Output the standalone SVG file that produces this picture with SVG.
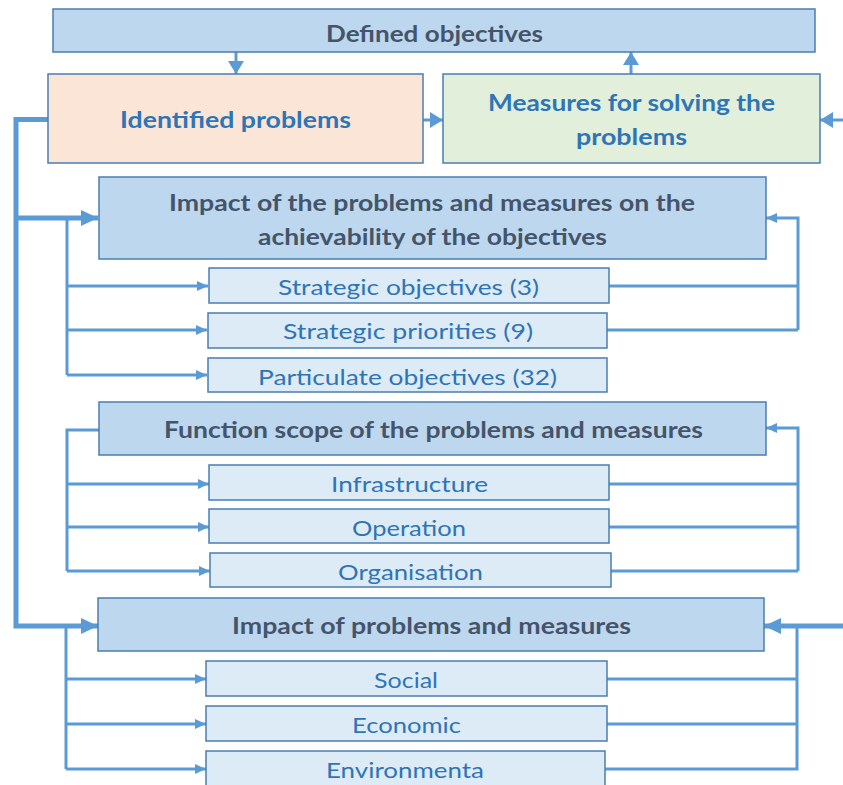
<svg xmlns="http://www.w3.org/2000/svg" width="843" height="785" viewBox="0 0 843 785">
<style>
.box{stroke:#4a7eb0;stroke-width:1.5}
.main{fill:#bdd7ee}
.sub{fill:#ddebf7}
.tb{font-family:Lato,"Open Sans","DejaVu Sans",sans-serif;font-weight:bold;font-size:22px;fill:#44546a;text-anchor:middle}
.tbb{font-family:Lato,"Open Sans","DejaVu Sans",sans-serif;font-weight:bold;font-size:22px;fill:#2e75b6;text-anchor:middle}
.tr{font-family:Lato,"Open Sans","DejaVu Sans",sans-serif;font-size:22px;fill:#2e75b6;text-anchor:middle}
.thick{fill:none;stroke:#5b9bd5;stroke-width:5}
.thin{fill:none;stroke:#5b9bd5;stroke-width:3}
</style>
<defs>
<marker id="ab" markerUnits="userSpaceOnUse" markerWidth="18" markerHeight="16" refX="17" refY="8" orient="auto">
<path d="M0,0 L17,8 L0,16 Z" fill="#5b9bd5"/>
</marker>
<marker id="as" markerUnits="userSpaceOnUse" markerWidth="12" markerHeight="10" refX="11" refY="5" orient="auto">
<path d="M0,0 L11,5 L0,10 Z" fill="#5b9bd5"/>
</marker>
<marker id="am" markerUnits="userSpaceOnUse" markerWidth="14" markerHeight="16" refX="13" refY="8" orient="auto">
<path d="M0,0 L13,8 L0,16 Z" fill="#5b9bd5"/>
</marker>
</defs>
<g id="connectors">
<path class="thick" d="M48 119.5 H16 V626 H98" marker-end="url(#ab)"/>
<path class="thick" d="M16 218 H98" marker-end="url(#ab)"/>
<path class="thick" d="M843 626 H764" marker-end="url(#ab)"/>
<path class="thin" d="M236 52 V74" marker-end="url(#am)"/>
<path class="thin" d="M631 74 V52" marker-end="url(#am)"/>
<path class="thin" d="M423 120 H443" marker-end="url(#am)"/>
<path class="thin" d="M843 120 H820" marker-end="url(#am)"/>
<path class="thin" d="M67 218 V375"/>
<path class="thin" d="M67 286 H208" marker-end="url(#as)"/>
<path class="thin" d="M67 330 H207" marker-end="url(#as)"/>
<path class="thin" d="M67 375 H207" marker-end="url(#as)"/>
<path class="thin" d="M609 286 H798 M607 330 H798"/>
<path class="thin" d="M798 330 V218 H766" marker-end="url(#as)"/>
<path class="thin" d="M99 430 H67 V571"/>
<path class="thin" d="M67 484 H209" marker-end="url(#as)"/>
<path class="thin" d="M67 527 H209" marker-end="url(#as)"/>
<path class="thin" d="M67 571 H210" marker-end="url(#as)"/>
<path class="thin" d="M609 484 H798 M609 527 H798 M611 571 H798"/>
<path class="thin" d="M798 571 V428 H766" marker-end="url(#as)"/>
<path class="thin" d="M66 626 V769"/>
<path class="thin" d="M66 679 H206" marker-end="url(#as)"/>
<path class="thin" d="M66 724 H206" marker-end="url(#as)"/>
<path class="thin" d="M66 769 H206" marker-end="url(#as)"/>
<path class="thin" d="M607 679 H797 M607 724 H797 M605 769 H797 V626"/>
</g>
<g id="defined-objectives">
<rect class="box main" x="53" y="9" width="762" height="43"/>
<text class="tb" x="434.5" y="42" textLength="217" lengthAdjust="spacingAndGlyphs">Defined objectives</text>
</g>
<g id="identified-problems">
<rect class="box" fill="#fbe5d6" x="48" y="74" width="375" height="89"/>
<text class="tbb" x="235.5" y="128" textLength="231" lengthAdjust="spacingAndGlyphs">Identified problems</text>
</g>
<g id="measures">
<rect class="box" fill="#e2efda" x="443" y="74" width="377" height="89"/>
<text class="tbb" x="631.5" y="111" textLength="287" lengthAdjust="spacingAndGlyphs">Measures for solving the</text>
<text class="tbb" x="631.5" y="145" textLength="111" lengthAdjust="spacingAndGlyphs">problems</text>
</g>
<g id="impact-achievability">
<rect class="box main" x="99" y="177" width="667" height="82"/>
<text class="tb" x="432" y="211" textLength="526" lengthAdjust="spacingAndGlyphs">Impact of the problems and measures on the</text>
<text class="tb" x="432.5" y="245" textLength="349" lengthAdjust="spacingAndGlyphs">achievability of the objectives</text>
</g>
<g id="strategic-objectives">
<rect class="box sub" x="209" y="268" width="400" height="35"/>
<text class="tr" x="408.5" y="295" textLength="261" lengthAdjust="spacingAndGlyphs">Strategic objectives (3)</text>
</g>
<g id="strategic-priorities">
<rect class="box sub" x="208" y="313" width="399" height="35"/>
<text class="tr" x="408" y="339" textLength="250" lengthAdjust="spacingAndGlyphs">Strategic priorities (9)</text>
</g>
<g id="particulate-objectives">
<rect class="box sub" x="208" y="358" width="399" height="34"/>
<text class="tr" x="407.5" y="385" textLength="299" lengthAdjust="spacingAndGlyphs">Particulate objectives (32)</text>
</g>
<g id="function-scope">
<rect class="box main" x="99" y="402" width="667" height="53"/>
<text class="tb" x="433.5" y="438" textLength="539" lengthAdjust="spacingAndGlyphs">Function scope of the problems and measures</text>
</g>
<g id="infrastructure">
<rect class="box sub" x="209" y="465" width="400" height="35"/>
<text class="tr" x="409.5" y="492" textLength="157" lengthAdjust="spacingAndGlyphs">Infrastructure</text>
</g>
<g id="operation">
<rect class="box sub" x="209" y="509" width="400" height="34"/>
<text class="tr" x="409" y="536" textLength="114" lengthAdjust="spacingAndGlyphs">Operation</text>
</g>
<g id="organisation">
<rect class="box sub" x="210" y="553" width="401" height="34"/>
<text class="tr" x="410.5" y="580" textLength="145" lengthAdjust="spacingAndGlyphs">Organisation</text>
</g>
<g id="impact-problems-measures">
<rect class="box main" x="98" y="598" width="666" height="53"/>
<text class="tb" x="431.5" y="634" textLength="399" lengthAdjust="spacingAndGlyphs">Impact of problems and measures</text>
</g>
<g id="social">
<rect class="box sub" x="206" y="661" width="401" height="35"/>
<text class="tr" x="406" y="688" textLength="64" lengthAdjust="spacingAndGlyphs">Social</text>
</g>
<g id="economic">
<rect class="box sub" x="206" y="706" width="401" height="35"/>
<text class="tr" x="406.5" y="733" textLength="109" lengthAdjust="spacingAndGlyphs">Economic</text>
</g>
<g id="environmenta">
<rect class="box sub" x="206" y="751" width="399" height="40"/>
<text class="tr" x="405" y="778" textLength="158" lengthAdjust="spacingAndGlyphs">Environmenta</text>
</g>
</svg>
